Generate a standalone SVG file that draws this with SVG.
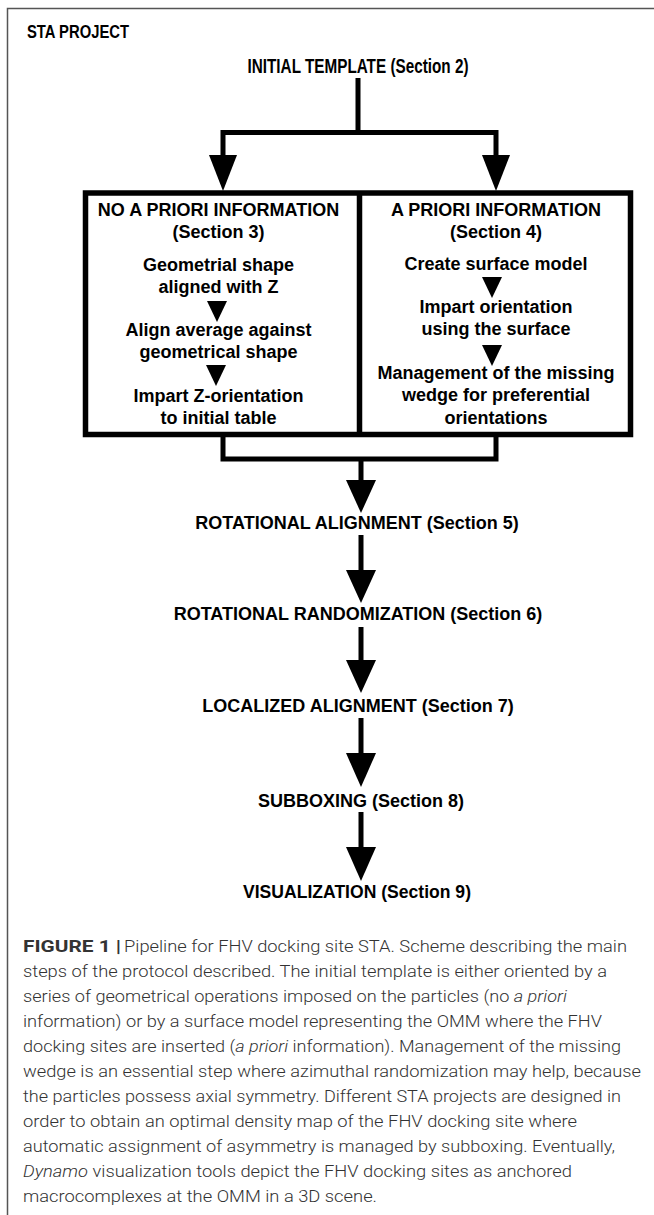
<svg xmlns="http://www.w3.org/2000/svg" width="654" height="1215" viewBox="0 0 654 1215">
<style>
.b{font-family:"Liberation Sans",Arial,sans-serif;font-weight:bold;font-size:18px;fill:#000;text-anchor:middle}
.c{font-family:Roboto,"Liberation Sans",Arial,sans-serif;font-weight:300;font-size:17px;fill:#333}
.ln{stroke:#000;stroke-width:5;fill:none}
.ar{fill:#000}
</style>
<rect width="654" height="1215" fill="#fff"/>
<path d="M7.5 1215V8.5H654" fill="none" stroke="#555" stroke-width="1.5"/>
<g id="title"><text x="27" y="37.5" class="b" style="text-anchor:start;font-size:17.5px" textLength="102" lengthAdjust="spacingAndGlyphs">STA PROJECT</text></g>
<g id="initial-template"><text x="358" y="73" class="b" style="font-size:19.5px" textLength="221" lengthAdjust="spacingAndGlyphs">INITIAL TEMPLATE (Section 2)</text></g>
<g id="no-apriori">
<text x="218.5" y="216" class="b">NO A PRIORI INFORMATION</text>
<text x="218.5" y="238" class="b">(Section 3)</text>
<text x="218.5" y="271" class="b">Geometrial shape</text>
<text x="218.5" y="293" class="b">aligned with Z</text>
<polygon class="ar" points="207,301 227,301 217,322"/>
<text x="218.5" y="336" class="b">Align average against</text>
<text x="218.5" y="358" class="b">geometrical shape</text>
<polygon class="ar" points="206,365 226,365 216,386"/>
<text x="218.5" y="402" class="b">Impart Z-orientation</text>
<text x="218.5" y="424" class="b">to initial table</text>
</g>
<g id="apriori">
<text x="496" y="216" class="b">A PRIORI INFORMATION</text>
<text x="496" y="238" class="b">(Section 4)</text>
<text x="496" y="270" class="b">Create surface model</text>
<polygon class="ar" points="482,277 502,277 492,298"/>
<text x="496" y="313" class="b">Impart orientation</text>
<text x="496" y="335" class="b">using the surface</text>
<polygon class="ar" points="482,345 502,345 492,366"/>
<text x="496" y="379" class="b">Management of the missing</text>
<text x="496" y="401" class="b">wedge for preferential</text>
<text x="496" y="424" class="b">orientations</text>
</g>
<g id="box">
<rect x="85.5" y="193" width="545" height="241.5" fill="none" stroke="#000" stroke-width="5.5"/>
<line x1="359.5" y1="193" x2="359.5" y2="434.5" stroke="#000" stroke-width="5.5"/>
</g>
<g id="rotational-alignment"><text x="357" y="529" class="b">ROTATIONAL ALIGNMENT (Section 5)</text></g>
<g id="rotational-randomization"><text x="358" y="620" class="b">ROTATIONAL RANDOMIZATION (Section 6)</text></g>
<g id="localized-alignment"><text x="358" y="712" class="b">LOCALIZED ALIGNMENT (Section 7)</text></g>
<g id="subboxing"><text x="361" y="807" class="b">SUBBOXING (Section 8)</text></g>
<g id="visualization"><text x="357" y="898" class="b" style="font-size:19px" textLength="228" lengthAdjust="spacingAndGlyphs">VISUALIZATION (Section 9)</text></g>
<g id="connectors">
<path class="ln" d="M358 78V132.5M223 155V132.5H496V155"/>
<polygon class="ar" points="209,155 237,155 223,191"/>
<polygon class="ar" points="482,155 510,155 496,191"/>
<path class="ln" d="M223 437V459H496V437M361 459V481"/>
<polygon class="ar" points="346,480 376,480 361,513"/>
<path class="ln" d="M361 535V571"/>
<polygon class="ar" points="346,570 376,570 361,603"/>
<path class="ln" d="M361 627V661"/>
<polygon class="ar" points="346,660 376,660 361,693"/>
<path class="ln" d="M361 718V754"/>
<polygon class="ar" points="346,753 376,753 361,787"/>
<path class="ln" d="M361 812V848"/>
<polygon class="ar" points="346,847 376,847 361,881"/>
</g>
<g id="caption">
<text x="23" y="952" class="c" style="font-weight:bold" textLength="98" lengthAdjust="spacingAndGlyphs">FIGURE 1 |</text>
<text x="124" y="952" class="c" textLength="503" lengthAdjust="spacingAndGlyphs">Pipeline for FHV docking site STA. Scheme describing the main</text>
<text x="23" y="977" class="c" textLength="584" lengthAdjust="spacingAndGlyphs">steps of the protocol described. The initial template is either oriented by a</text>
<text x="23" y="1002" class="c" textLength="544" lengthAdjust="spacingAndGlyphs">series of geometrical operations imposed on the particles (no <tspan font-style="italic">a priori</tspan></text>
<text x="23" y="1027" class="c" textLength="579" lengthAdjust="spacingAndGlyphs">information) or by a surface model representing the OMM where the FHV</text>
<text x="23" y="1052" class="c" textLength="598" lengthAdjust="spacingAndGlyphs">docking sites are inserted (<tspan font-style="italic">a priori</tspan> information). Management of the missing</text>
<text x="23" y="1077" class="c" textLength="618" lengthAdjust="spacingAndGlyphs">wedge is an essential step where azimuthal randomization may help, because</text>
<text x="23" y="1102" class="c" textLength="598" lengthAdjust="spacingAndGlyphs">the particles possess axial symmetry. Different STA projects are designed in</text>
<text x="23" y="1127" class="c" textLength="554" lengthAdjust="spacingAndGlyphs">order to obtain an optimal density map of the FHV docking site where</text>
<text x="23" y="1152" class="c" textLength="592" lengthAdjust="spacingAndGlyphs">automatic assignment of asymmetry is managed by subboxing. Eventually,</text>
<text x="23" y="1177" class="c" textLength="549" lengthAdjust="spacingAndGlyphs"><tspan font-style="italic">Dynamo</tspan> visualization tools depict the FHV docking sites as anchored</text>
<text x="23" y="1202" class="c" textLength="354" lengthAdjust="spacingAndGlyphs">macrocomplexes at the OMM in a 3D scene.</text>
</g>
</svg>
